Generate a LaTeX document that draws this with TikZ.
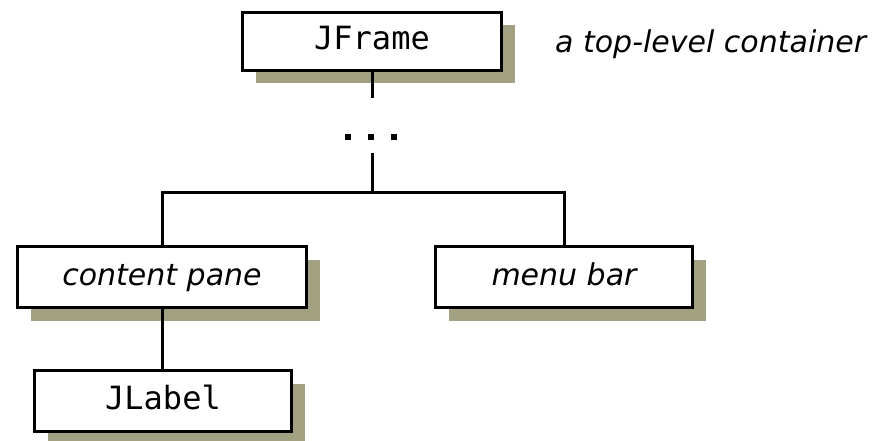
\documentclass[tikz,border=0pt]{standalone}
\usepackage{fontspec}
\usetikzlibrary{shadows}
\newfontfamily\labelfont{DejaVu Sans}
\newfontfamily\classfont{DejaVu Sans Mono}
\definecolor{shadowolive}{RGB}{161,160,128}
\tikzset{
  compbox/.style={draw=black, line width=3pt, fill=white, inner sep=0pt,
    minimum height=61pt, text height=16pt, text depth=0pt,
    drop shadow={shadow xshift=13pt, shadow yshift=-13pt, opacity=1, fill=shadowolive}},
  classname/.style={font=\classfont\fontsize{32}{38}\selectfont},
  rolename/.style={font=\labelfont\itshape\fontsize{30}{36}\selectfont},
  link/.style={line width=3pt, line join=miter},
  dotmark/.style={fill=black, inner sep=0pt, minimum size=6pt}
}
\begin{document}
\begin{tikzpicture}[x=1pt, y=-1pt]
  \useasboundingbox (0,0) rectangle (876,441);

  % containment hierarchy boxes
  \node[compbox, classname, minimum width=259pt, minimum height=58pt] (jf) at (372,41.5) {JFrame};
  \node[compbox, rolename, minimum width=289pt] (cp) at (162,277) {content pane};
  \node[compbox, rolename, minimum width=257pt] (mb) at (564,277) {menu bar};
  \node[compbox, classname, minimum width=257pt] (jl) at (163,401) {JLabel};

  % annotation beside the top-level box
  \node[rolename, anchor=base west, inner sep=0pt] (note) at (555,53) {a top-level container};

  % elided levels between frame and panes
  \node[dotmark] (d1) at (348,137) {};
  \node[dotmark] (d2) at (371,137) {};
  \node[dotmark] (d3) at (394,137) {};

  \coordinate (upper) at (372,98);
  \coordinate (lower) at (372,153);
  \coordinate (bus) at (372,193);

  \draw[link] (jf.south) -- (upper);
  \draw[link] (lower) -- (bus);
  \draw[link] (cp.north) |- (bus) -| (mb.north);
  \draw[link] (cp.south) -- (cp.south |- jl.north);
\end{tikzpicture}
\end{document}
